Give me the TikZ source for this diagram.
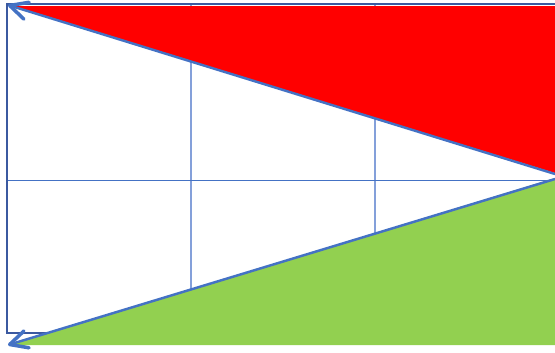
\documentclass[tikz,border=0pt]{standalone}
\usepackage{xcolor}
\usepackage{tikz}
\usetikzlibrary{arrows.meta}
\definecolor{frameblue}{RGB}{59,89,160}
\definecolor{gridblue}{RGB}{68,114,196}
\definecolor{lightblue}{RGB}{132,160,218}
\definecolor{fillred}{RGB}{255,0,0}
\definecolor{fillgreen}{RGB}{146,208,80}

\begin{document}
\begin{tikzpicture}[x=0.02cm, y=-0.02cm,
        grid/.style={gridblue, line width=1.1pt},
        barb/.style={gridblue, line width=1.4pt, -{Straight Barb[length=10pt, width=10pt, line width=2pt, round]}}]
                \useasboundingbox (0,0) rectangle (555,352);
                \coordinate (tipA) at (8,5);
                \coordinate (tipB) at (8,345);
                \coordinate (apexA) at (555,174);
                \coordinate (apexB) at (555,179);
                \draw[lightblue, line width=1.1pt] (191,4) -- (191,333) (375,4) -- (375,333);
                \draw[grid] (7,180.5) -- (555,180.5);
                \draw[frameblue, line width=1.2pt] (555,4) -- (7,4) -- (7,333) -- (555,333);
                \fill[fillred]   (10,6) -- (555,6) -- (555,173) -- cycle;
                \fill[fillgreen] (10,345) -- (555,178) -- (555,345) -- cycle;
                \draw[barb] (apexA) -- (tipA);
                \draw[barb] (apexB) -- (tipB);
            \end{tikzpicture}
\end{document}
